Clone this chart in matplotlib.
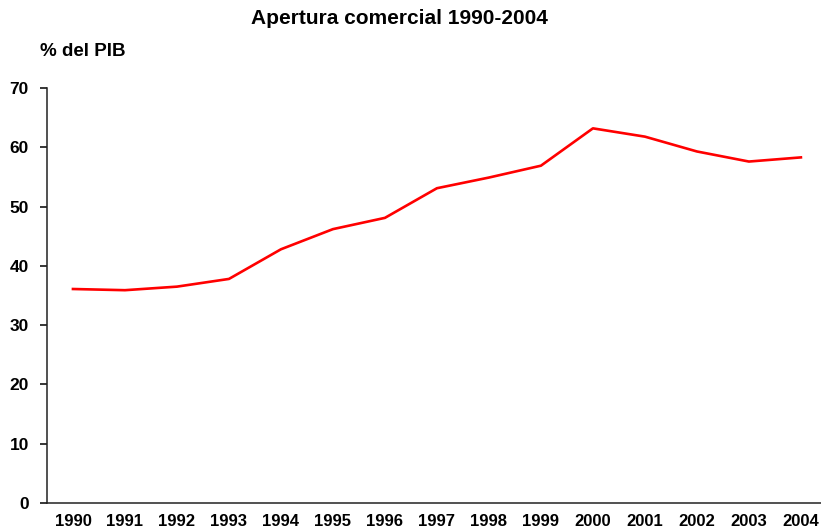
import matplotlib.pyplot as plt

# Trade openness, % of GDP
years = ['1990', '1991', '1992', '1993', '1994', '1995', '1996', '1997',
         '1998', '1999', '2000', '2001', '2002', '2003', '2004']
apertura = [36.1, 35.9, 36.5, 37.8, 42.8, 46.2, 48.1, 53.1,
            54.9, 56.9, 63.2, 61.8, 59.3, 57.6, 58.3]

plt.rcParams['font.family'] = ['Liberation Sans', 'DejaVu Sans']
plt.rcParams['font.weight'] = 'bold'

fig = plt.figure(figsize=(8.21, 5.30), dpi=100)
ax = fig.add_axes([0.0572, 0.0509, 0.9500, 0.783])

x = range(len(years))
ax.plot(x, apertura, color='#ff0000', linewidth=1.9)

ax.set_xlim(-0.5, len(years) - 0.5)
ax.set_ylim(0, 70)
ax.set_yticks(range(0, 71, 10))
ax.set_xticks(list(x))
ax.set_xticklabels(years)

ax.spines['top'].set_visible(False)
ax.spines['right'].set_visible(False)
for s in ('left', 'bottom'):
    ax.spines[s].set_linewidth(1.1)
    ax.spines[s].set_color('#222222')

ax.tick_params(axis='x', length=0, pad=8, labelsize=12)
ax.tick_params(axis='y', length=5, width=1.1, pad=8, labelsize=12.5)
for lbl in ax.get_xticklabels() + ax.get_yticklabels():
    lbl.set_fontweight('bold')

fig.text(0.487, 0.966, 'Apertura comercial 1990-2004', ha='center', va='center',
         fontsize=15, fontweight='bold')
fig.text(0.049, 0.903, '% del PIB', ha='left', va='center',
         fontsize=13.5, fontweight='bold')

fig.savefig('out.png', dpi=100)
